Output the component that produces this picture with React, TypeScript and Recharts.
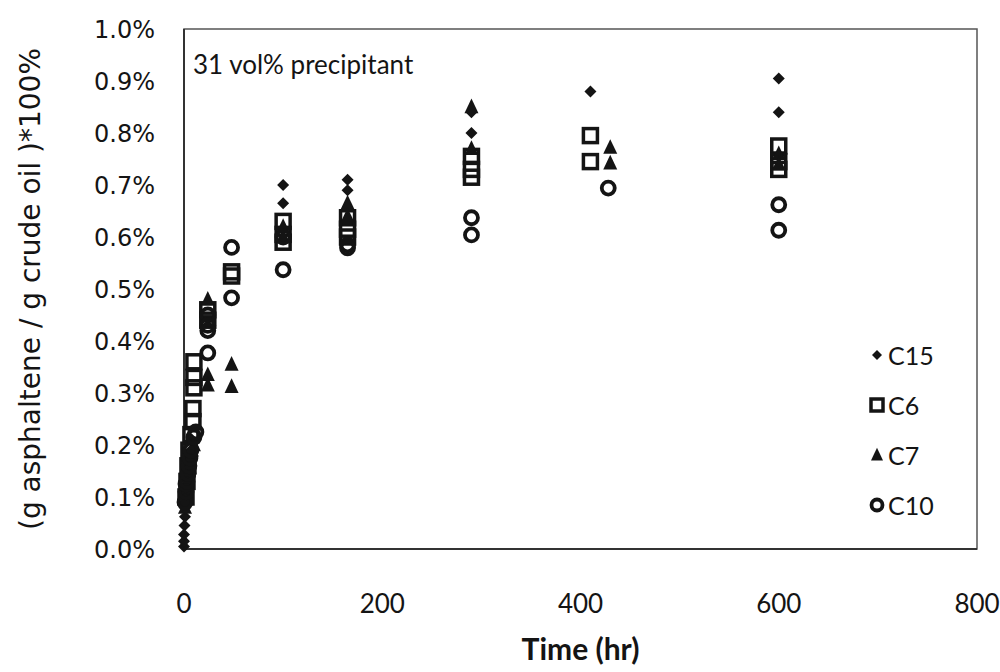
import { ScatterChart, Scatter, XAxis, YAxis, ReferenceArea } from 'recharts';

// [time (hr), asphaltene %]
const C15 = [
  [0, 0.005], [0, 0.015], [0, 0.028], [0.5, 0.045], [1, 0.062], [1, 0.08], [2, 0.1], [2, 0.11],
  [3, 0.12], [3, 0.13], [4, 0.14], [5, 0.15], [6, 0.17], [7, 0.19], [8, 0.21],
  [100, 0.70], [100, 0.665], [165, 0.71], [165, 0.69], [290, 0.84], [290, 0.80],
  [410, 0.88], [600, 0.905], [600, 0.84],
];
const C6 = [
  [2, 0.1], [3, 0.13], [4, 0.16], [5, 0.19], [7, 0.22], [9, 0.245], [9, 0.27], [10, 0.31],
  [10, 0.33], [10, 0.36], [24, 0.46], [24, 0.44], [48, 0.533], [48, 0.525],
  [100, 0.63], [100, 0.605], [100, 0.59], [165, 0.637], [165, 0.615], [165, 0.6],
  [290, 0.755], [290, 0.73], [290, 0.715], [410, 0.795], [410, 0.745],
  [600, 0.775], [600, 0.745], [600, 0.73],
];
const C7 = [
  [1, 0.08], [1, 0.095], [2, 0.1], [2, 0.115], [3, 0.12], [4, 0.135], [5, 0.15], [6, 0.17], [8, 0.19], [10, 0.2],
  [24, 0.48], [24, 0.335], [24, 0.315], [48, 0.355], [48, 0.312],
  [100, 0.62], [100, 0.6], [165, 0.665], [165, 0.64], [290, 0.85], [290, 0.77],
  [430, 0.772], [430, 0.742], [600, 0.76], [600, 0.74],
];
const C10 = [
  [1, 0.09], [2, 0.11], [2, 0.125], [3, 0.13], [4, 0.145], [5, 0.16], [6, 0.175], [7, 0.19], [10, 0.215], [12, 0.225],
  [24, 0.45], [24, 0.43], [24, 0.42], [24, 0.377], [48, 0.58], [48, 0.483],
  [100, 0.6], [100, 0.537], [165, 0.585], [165, 0.579], [290, 0.637], [290, 0.604],
  [428, 0.694], [600, 0.662], [600, 0.613],
];

const SERIES_NAMES = ['C15', 'C6', 'C7', 'C10'];
const X_TICKS = [0, 200, 400, 600, 800];
const Y_TICKS = [0, 0.1, 0.2, 0.3, 0.4, 0.5, 0.6, 0.7, 0.8, 0.9, 1.0];

const INK = '#141414';
const toRows = (pts: number[][]) => pts.map(([hr, v]) => ({ hr, v }));

const Diamond = ({ cx, cy, r = 6 }: any) => (
  <path d={`M${cx},${cy - r} L${cx + r},${cy} L${cx},${cy + r} L${cx - r},${cy} Z`} fill={INK} />
);
const Square = ({ cx, cy, s = 14 }: any) => (
  <rect x={cx - s / 2} y={cy - s / 2} width={s} height={s} fill="none" stroke={INK} strokeWidth={3.5} />
);
const Triangle = ({ cx, cy, s = 14 }: any) => (
  <path d={`M${cx},${cy - s * 0.6} L${cx + s / 2},${cy + s * 0.45} L${cx - s / 2},${cy + s * 0.45} Z`} fill={INK} />
);
const Circle = ({ cx, cy, r = 6.5 }: any) => (
  <circle cx={cx} cy={cy} r={r} fill="none" stroke={INK} strokeWidth={3.8} />
);

const SHAPES: Record<string, any> = { C15: Diamond, C6: Square, C7: Triangle, C10: Circle };
const LEGEND_SIZES: Record<string, any> = { C15: { r: 5 }, C6: { s: 12 }, C7: { s: 12 }, C10: { r: 5.5 } };

function LegendBox() {
  return (
    <div style={{ position: 'absolute', left: 866, top: 330 }}>
      {SERIES_NAMES.map((name) => {
        const Shape = SHAPES[name];
        return (
          <div key={name} style={{ display: 'flex', alignItems: 'center', height: 50 }}>
            <svg width={22} height={22}>
              <Shape cx={11} cy={11} {...LEGEND_SIZES[name]} />
            </svg>
            <span style={{ fontFamily: 'Lato, sans-serif', fontSize: 25, color: INK }}>{name}</span>
          </div>
        );
      })}
    </div>
  );
}

export default function App() {
  return (
    <div style={{ position: 'absolute', left: 0, top: 0, width: 1000, height: 672, background: '#fff' }}>
      <ScatterChart width={1000} height={672} margin={{ top: 29, right: 23, bottom: 0, left: 0 }}>
        <XAxis
          type="number"
          dataKey="hr"
          domain={[0, 800]}
          ticks={X_TICKS}
          interval={0}
          tickLine={false}
          tickSize={0}
          tickMargin={46}
          axisLine={{ stroke: '#333', strokeWidth: 2 }}
          tick={{ fontFamily: 'Lato, sans-serif', fontSize: 26, fill: INK }}
          height={123}
          label={{
            value: 'Time (hr)',
            position: 'insideBottom',
            offset: 12,
            style: { fontFamily: 'Lato, sans-serif', fontSize: 30, fontWeight: 700, fill: INK },
          }}
        />
        <YAxis
          type="number"
          dataKey="v"
          domain={[0, 1]}
          ticks={Y_TICKS}
          interval={0}
          tickFormatter={(v: number) => `${v.toFixed(1)}%`}
          tickLine={false}
          tickSize={0}
          tickMargin={29}
          axisLine={{ stroke: '#333', strokeWidth: 2 }}
          tick={{ fontFamily: 'DejaVu Sans, sans-serif', fontSize: 24, fill: INK }}
          width={184}
          label={{
            value: '(g asphaltene / g crude oil )*100%',
            angle: -90,
            position: 'insideLeft',
            offset: 30,
            style: { textAnchor: 'middle', fontFamily: 'DejaVu Sans, sans-serif', fontSize: 28, fill: INK },
          }}
        />
        <ReferenceArea x1={0} x2={800} y1={0} y2={1} fill="none" stroke="#555" strokeWidth={1.5} ifOverflow="visible" />
        <Scatter name="C15" data={toRows(C15)} isAnimationActive={false} shape={(p: any) => <Diamond cx={p.cx} cy={p.cy} />} />
        <Scatter name="C6" data={toRows(C6)} isAnimationActive={false} shape={(p: any) => <Square cx={p.cx} cy={p.cy} />} />
        <Scatter name="C7" data={toRows(C7)} isAnimationActive={false} shape={(p: any) => <Triangle cx={p.cx} cy={p.cy} />} />
        <Scatter name="C10" data={toRows(C10)} isAnimationActive={false} shape={(p: any) => <Circle cx={p.cx} cy={p.cy} />} />
      </ScatterChart>
      <LegendBox />
      <div
        style={{
          position: 'absolute',
          left: 193,
          top: 48,
          fontFamily: 'Lato, sans-serif',
          fontSize: 26,
          color: INK,
          whiteSpace: 'nowrap',
        }}
      >
        31 vol% precipitant
      </div>
    </div>
  );
}
